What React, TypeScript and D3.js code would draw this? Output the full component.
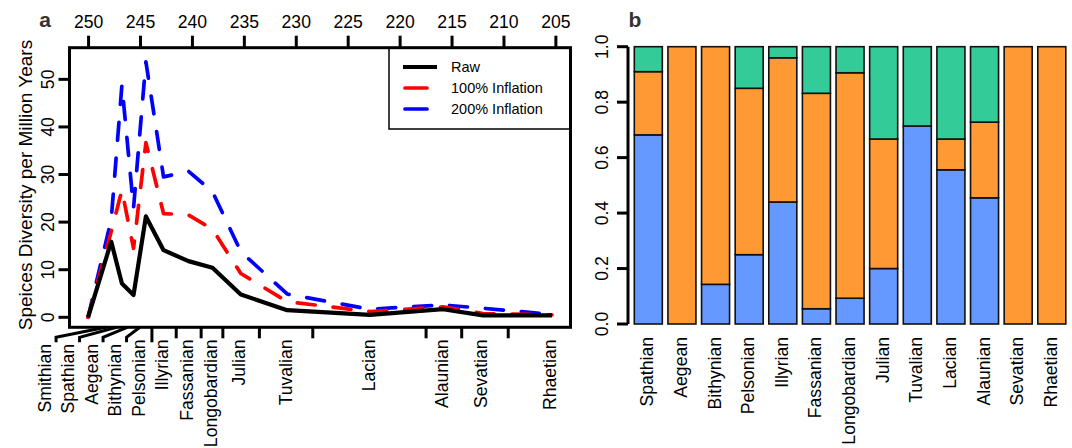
import React from 'react';
import * as d3 from 'd3';

// stages (Triassic substages), panel a
const stages = ['Smithian', 'Spathian', 'Aegean', 'Bithynian', 'Pelsonian', 'Illyrian', 'Fassanian',
  'Longobardian', 'Julian', 'Tuvalian', 'Lacian', 'Alaunian', 'Sevatian', 'Rhaetian'];
// stage midpoints and ends, Ma
const stageMid = [250.05, 247.82, 246.79, 245.67, 244.48, 242.78, 240.38, 238.07, 235.34, 230.88, 222.9, 215.87, 212.02, 205.38];
const stageEnd = [248.34, 247.3, 246.28, 245.06, 243.9, 241.56, 239.16, 237.07, 233.55, 228.41, 217.5, 214.07, 209.59];

const rawDiv = [0, 15.9, 7.1, 4.7, 21.2, 14.1, 11.8, 10.4, 4.8, 1.5, 0.5, 1.7, 0.4, 0.4];
const infl100 = [0, 18, 26.7, 14.5, 36.7, 21.8, 21.5, 18.5, 9.2, 3.3, 1.2, 2.2, 0.8, 0.5];
const infl200 = [0, 20.5, 48.8, 23.0, 53.7, 29.5, 30.7, 26.4, 13.8, 4.9, 1.7, 2.6, 1.9, 0.6];

const topTicks = [250, 245, 240, 235, 230, 225, 220, 215, 210, 205];
const leftTicks = [0, 10, 20, 30, 40, 50];

// panel b, proportions
const barStages = stages.slice(1);
const propBlue = [0.682, 0, 0.143, 0.25, 0.44, 0.055, 0.093, 0.2, 0.714, 0.556, 0.455, 0, 0];
const propOrange = [0.228, 1, 0.857, 0.6, 0.52, 0.777, 0.813, 0.467, 0, 0.111, 0.273, 1, 1];
const propGreen = [0.09, 0, 0, 0.15, 0.04, 0.168, 0.094, 0.333, 0.286, 0.333, 0.272, 0, 0];
const propTicks = [0, 0.2, 0.4, 0.6, 0.8, 1.0];

const FONT = '"Liberation Sans", Arial, Helvetica, sans-serif';
const FS = 17.6;

export default function App() {
  // ---- panel a ----
  const n = stageMid.length;
  const pad = (stageMid[0] - stageMid[n - 1]) * 0.04;
  const left = 69.5, right = 570.5, top = 47.7, bottom = 327.3;
  const x = d3.scaleLinear().domain([stageMid[0] + pad, stageMid[n - 1] - pad]).range([left, right]);
  const y = d3.scaleLinear().domain([-2.1, 56.65]).range([bottom, top]);

  const line = d3.line<number>().x((d, i) => x(stageMid[i])).y(d => y(d));

  // spread crowded labels to the left
  const labelX = stageMid.map(d => x(d));
  for (let i = n - 2; i >= 0; i--) labelX[i] = Math.min(labelX[i], labelX[i + 1] - 23.5);

  const series = [
    { name: '200% Inflation', vals: infl200, color: '#0000ff', dash: '18 18', w: 3.7 },
    { name: '100% Inflation', vals: infl100, color: '#ff0000', dash: '18 18', w: 3.7 },
    { name: 'Raw', vals: rawDiv, color: '#000000', dash: null, w: 4.2 },
  ];
  const legendOrder = [series[2], series[1], series[0]];

  // ---- panel b ----
  const bx = d3.scaleBand<string>().domain(barStages).range([634.3, 1065.8]).paddingInner(0.2 / 1.2).paddingOuter(0);
  const by = d3.scaleLinear().domain([0, 1]).range([324, 46.7]);
  const rows = barStages.map((s, i) => ({ s, blue: propBlue[i], orange: propOrange[i], green: propGreen[i] }));
  const stack = d3.stack<any>().keys(['blue', 'orange', 'green'])(rows);
  const fills: Record<string, string> = { blue: '#6699ff', orange: '#ff9933', green: '#33cc99' };

  return (
    <div style={{ position: 'fixed', left: 0, top: 0 }}>
      <svg width={1072} height={448} style={{ display: 'block', background: '#fff' }} fontFamily={FONT}>
        {/* panel labels */}
        <text x={45} y={27} fontSize={21} fontWeight="bold" fill="#333" textAnchor="middle">a</text>
        <text x={635} y={27} fontSize={21} fontWeight="bold" fill="#333" textAnchor="middle">b</text>

        {/* top axis */}
        {topTicks.map(t => (
          <g key={t}>
            <line x1={x(t)} x2={x(t)} y1={top} y2={top - 12} stroke="#000" strokeWidth={3} />
            <text x={x(t)} y={27.5} fontSize={FS} textAnchor="middle">{t}</text>
          </g>
        ))}

        {/* left axis */}
        {leftTicks.map(t => (
          <g key={t}>
            <line x1={left} x2={left - 11} y1={y(t)} y2={y(t)} stroke="#000" strokeWidth={3} />
            <text transform={`translate(47.5,${y(t)}) rotate(-90)`} fontSize={FS} textAnchor="middle" dominantBaseline="central">{t}</text>
          </g>
        ))}
        <text transform={`translate(25,185) rotate(-90)`} fontSize={19} textAnchor="middle" dominantBaseline="central">
          Speices Diversity per Million Years
        </text>

        {/* bottom stage ticks; the crowded early ones bend to their labels */}
        {stageEnd.map((e, i) => {
          const xe = x(e);
          if (i < 4) {
            const lx = labelX[i] + 10;
            return <polyline key={i} points={`${xe},${bottom} ${lx},${bottom + 10} ${lx},${bottom + 15}`} fill="none" stroke="#000" strokeWidth={3} />;
          }
          return <line key={i} x1={xe} x2={xe} y1={bottom} y2={bottom + (i === 4 ? 15 : 11)} stroke="#000" strokeWidth={3} />;
        })}
        {stages.map((s, i) => (
          <text key={s} transform={`translate(${labelX[i] - 1.5},${i < 4 ? 344 : 339.5}) rotate(-90)`} fontSize={FS}
            textAnchor="end" dominantBaseline="central">{s}</text>
        ))}

        {/* lines */}
        {series.map(s => (
          <path key={s.name} d={line(s.vals) || ''} fill="none" stroke={s.color} strokeWidth={s.w}
            strokeDasharray={s.dash || undefined} strokeLinecap={s.dash ? 'round' : 'butt'} strokeLinejoin="round" />
        ))}

        {/* legend */}
        <rect x={389} y={top} width={right - 389} height={129 - top} fill="#fff" stroke="#000" strokeWidth={1.5} />
        {legendOrder.map((s, i) => (
          <g key={s.name}>
            <line x1={s.dash ? 405 : 403} x2={s.dash ? 427 : 437} y1={67 + i * 21} y2={67 + i * 21} stroke={s.color}
              strokeWidth={s.w} strokeLinecap={s.dash ? 'round' : 'butt'} />
            <text x={451} y={67 + i * 21} fontSize={14.5} dominantBaseline="central">{s.name}</text>
          </g>
        ))}

        {/* box */}
        <rect x={left} y={top} width={right - left} height={bottom - top} fill="none" stroke="#000" strokeWidth={3} />

        {/* ---- panel b ---- */}
        {stack.map(layer => (
          <g key={layer.key}>
            {layer.map((d, i) => (d[1] - d[0] > 0 ? (
              <rect key={i} x={bx(barStages[i])} width={bx.bandwidth()} y={by(d[1])} height={by(d[0]) - by(d[1])}
                fill={fills[layer.key]} stroke="#111" strokeWidth={1.6} />
            ) : null))}
          </g>
        ))}
        <line x1={628} x2={628} y1={by(0)} y2={by(1)} stroke="#000" strokeWidth={3} />
        {propTicks.map(t => (
          <g key={t}>
            <line x1={628} x2={617} y1={by(t)} y2={by(t)} stroke="#000" strokeWidth={3} />
            <text transform={`translate(601.5,${by(t)}) rotate(-90)`} fontSize={FS} textAnchor="middle" dominantBaseline="central">{t.toFixed(1)}</text>
          </g>
        ))}
        {barStages.map(s => (
          <text key={s} transform={`translate(${(bx(s) || 0) + bx.bandwidth() / 2 - 1},337) rotate(-90)`} fontSize={FS}
            textAnchor="end" dominantBaseline="central">{s}</text>
        ))}
      </svg>
    </div>
  );
}
